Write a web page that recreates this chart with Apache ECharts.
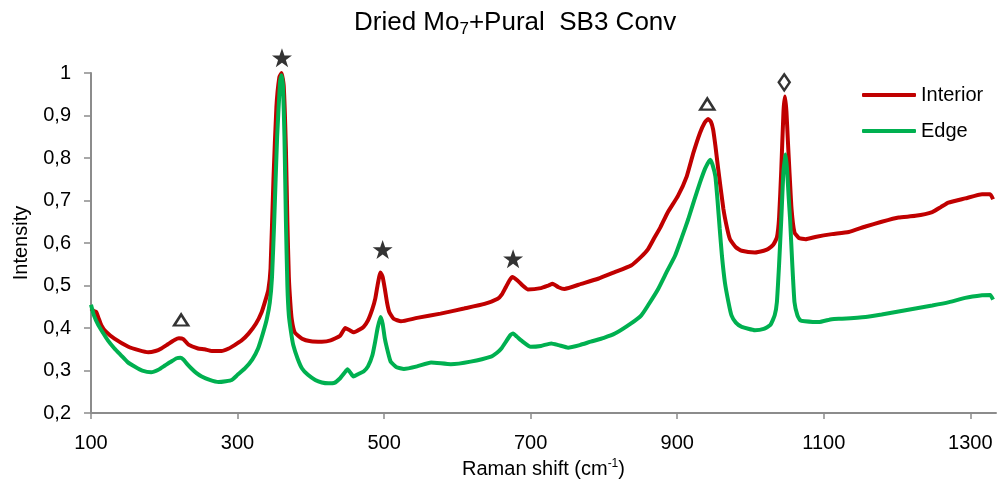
<!DOCTYPE html>
<html>
<head>
<meta charset="utf-8">
<script src="https://cdn.jsdelivr.net/npm/echarts@6/dist/echarts.min.js"></script>
<style>
html,body{margin:0;padding:0;background:#fff;}
#chart{width:1000px;height:484px;}
</style>
</head>
<body>
<div id="chart"></div>
<script>
// ---- Data ----
const interiorShift = [100,104,107,110,114,120,132,151,165,178,188,196,205,214,220,226,233,246,255,265,278,288,296,305,315,325,333,338,342,345,349,353,357,360,363,366,368,370,372,374,378,388,400,415,427,440,447,452,459,466,472,478,484,488,491,495,498,501,504,507,513,523,545,577,609,637,655,661,666,671,675,682,689,696,714,724,730,738,746,769,792,814,837,851,860,869,877,887,901,913,922,931,937,942,946,949,952,956,963,968,972,980,988,1006,1018,1024,1031,1036,1039,1042,1045,1047,1049,1051,1053,1056,1060,1066,1075,1090,1111,1134,1157,1179,1202,1225,1248,1260,1270,1293,1316,1327,1331];
const interiorIntensity = [0.446,0.44,0.438,0.425,0.407,0.392,0.375,0.356,0.348,0.343,0.346,0.352,0.362,0.372,0.376,0.374,0.361,0.352,0.35,0.346,0.346,0.352,0.36,0.37,0.387,0.41,0.438,0.465,0.49,0.54,0.75,0.92,0.99,1.0,0.97,0.82,0.65,0.52,0.46,0.42,0.39,0.375,0.369,0.368,0.371,0.382,0.4,0.396,0.39,0.396,0.403,0.418,0.445,0.47,0.5,0.531,0.52,0.492,0.46,0.438,0.422,0.416,0.424,0.434,0.446,0.457,0.469,0.48,0.496,0.512,0.52,0.512,0.5,0.491,0.494,0.5,0.504,0.496,0.492,0.504,0.516,0.531,0.547,0.568,0.585,0.613,0.637,0.672,0.711,0.757,0.812,0.859,0.882,0.892,0.885,0.867,0.83,0.773,0.68,0.635,0.609,0.59,0.582,0.578,0.582,0.586,0.596,0.613,0.66,0.773,0.91,0.945,0.91,0.84,0.773,0.68,0.625,0.612,0.609,0.615,0.621,0.626,0.639,0.65,0.66,0.664,0.673,0.685,0.695,0.705,0.715,0.715,0.703];

const edgeShift = [100,104,110,116,123,132,141,150,160,170,182,192,201,210,217,222,226,231,237,244,251,262,274,284,292,300,310,320,328,335,340,344,347,350,354,358,360,362,364,366,368,370,373,376,382,388,396,406,415,424,432,440,446,450,454,458,465,472,478,484,488,491,495,498,501,505,509,517,527,545,564,591,618,646,654,660,667,672,676,681,687,700,714,728,738,751,767,782,800,815,837,851,860,874,885,897,906,915,923,931,938,945,948,952,955,958,961,965,970,974,980,988,1006,1018,1027,1033,1036,1039,1042,1045,1048,1050,1052,1054,1057,1060,1064,1068,1074,1093,1111,1125,1157,1179,1202,1225,1248,1271,1293,1316,1327,1331];
const edgeIntensity = [0.455,0.43,0.407,0.39,0.371,0.352,0.336,0.32,0.309,0.3,0.296,0.302,0.312,0.322,0.329,0.33,0.326,0.316,0.305,0.294,0.286,0.278,0.273,0.275,0.278,0.29,0.305,0.326,0.352,0.39,0.422,0.46,0.52,0.65,0.85,0.98,0.995,0.97,0.85,0.65,0.5,0.43,0.39,0.36,0.328,0.305,0.29,0.278,0.272,0.27,0.271,0.282,0.295,0.303,0.295,0.286,0.292,0.298,0.31,0.336,0.37,0.399,0.426,0.41,0.375,0.345,0.321,0.308,0.304,0.31,0.319,0.315,0.321,0.333,0.342,0.352,0.37,0.383,0.387,0.38,0.371,0.356,0.358,0.364,0.36,0.354,0.36,0.368,0.377,0.387,0.411,0.43,0.453,0.492,0.53,0.57,0.612,0.656,0.7,0.742,0.775,0.796,0.785,0.757,0.7,0.633,0.57,0.508,0.46,0.43,0.413,0.403,0.395,0.398,0.407,0.43,0.461,0.55,0.656,0.77,0.808,0.77,0.71,0.656,0.55,0.461,0.43,0.418,0.416,0.414,0.421,0.422,0.426,0.432,0.439,0.446,0.453,0.461,0.471,0.477,0.478,0.467];

// peak markers: position (shift, intensity) and kind
const markerShift = [360.6, 498, 676, 223, 941, 1046];
const markerIntensity = [1.036, 0.585, 0.563, 0.419, 0.927, 0.978];
const markerKind = ['star','star','star','triangle','triangle','diamond'];

const xTicks = [100,300,500,700,900,1100,1300];
const yTicks = [0.2,0.3,0.4,0.5,0.6,0.7,0.8,0.9,1];

const seriesNames = ['Interior','Edge'];
const seriesColors = ['#C00000','#00B050'];

// ---- Chart ----
const zip = (a,b) => a.map((v,i)=>[v,b[i]]);
const FONT = "'Liberation Sans', Arial, sans-serif";
const starPath = 'path://M50,0 L61.8,34.5 L97.6,34.5 L68.6,55.9 L79.4,90.5 L50,69.1 L20.6,90.5 L31.4,55.9 L2.4,34.5 L38.2,34.5 Z';

const markerData = markerShift.map((x,i)=>{
  const k = markerKind[i];
  if (k === 'star') return {value:[x,markerIntensity[i]], symbol: starPath, symbolSize:[20,19], itemStyle:{color:'#000'}};
  if (k === 'triangle') return {value:[x,markerIntensity[i]], symbol:'triangle', symbolSize:[14,11], itemStyle:{color:'#fff', borderColor:'#000', borderWidth:2.5}};
  return {value:[x,markerIntensity[i]], symbol:'diamond', symbolSize:[11,16], itemStyle:{color:'#fff', borderColor:'#000', borderWidth:2.5}};
});

const chart = echarts.init(document.getElementById('chart'), null, {renderer:'canvas'});
chart.setOption({
  animation:false,
  backgroundColor:'#fff',
  title:{
    text:'{a|Dried Mo}{s|7}{a|+Pural  SB3 Conv}',
    left:354, top:8, padding:0,
    textStyle:{
      fontWeight:'normal',
      rich:{
        a:{fontFamily:FONT, fontSize:26, fontWeight:'normal', color:'#000', lineHeight:30},
        s:{fontFamily:FONT, fontSize:17, fontWeight:'normal', color:'#000', lineHeight:12, verticalAlign:'bottom'}
      }
    }
  },
  legend:{
    data:seriesNames,
    orient:'vertical',
    left:857, top:80,
    itemWidth:54, itemHeight:4,
    itemGap:16,
    icon:'roundRect',
    textStyle:{fontFamily:FONT, fontSize:20, color:'#000'}
  },
  grid:{left:91, right:4, top:73, bottom:69, containLabel:false},
  xAxis:{
    type:'value', min:100, max:1335,
    name:'Raman shift (cm{sup|-1})',
    nameLocation:'middle', nameGap:42,
    nameTextStyle:{fontFamily:FONT, fontSize:20, color:'#000',
      rich:{sup:{fontFamily:FONT, fontSize:12, color:'#000', verticalAlign:'top', padding:[0,0,10,0]}}},
    axisLine:{show:true, onZero:false, lineStyle:{color:'#8C8C8C', width:2}},
    axisTick:{show:true, length:6, customValues:xTicks, lineStyle:{color:'#8C8C8C', width:1.5}},
    axisLabel:{customValues:xTicks, margin:20, fontFamily:FONT, fontSize:20, color:'#000',
      formatter:(v)=>String(v)},
    splitLine:{show:false}
  },
  yAxis:{
    type:'value', min:0.2, max:1,
    name:'Intensity',
    nameLocation:'middle', nameGap:60, nameRotate:90,
    nameTextStyle:{fontFamily:FONT, fontSize:20, color:'#000'},
    axisLine:{show:true, lineStyle:{color:'#8C8C8C', width:2}},
    axisTick:{show:true, length:7, customValues:yTicks, lineStyle:{color:'#8C8C8C', width:1.5}},
    axisLabel:{customValues:yTicks, margin:20, fontFamily:FONT, fontSize:20, color:'#000',
      formatter:(v)=>String(Math.round(v*10)/10).replace('.', ',')},
    splitLine:{show:false}
  },
  series:[
    {name:seriesNames[0], type:'line', data:zip(interiorShift, interiorIntensity), showSymbol:false, smooth:0.15,
     lineStyle:{color:seriesColors[0], width:4}, itemStyle:{color:seriesColors[0]}, z:2},
    {name:seriesNames[1], type:'line', data:zip(edgeShift, edgeIntensity), showSymbol:false, smooth:0.15,
     lineStyle:{color:seriesColors[1], width:4}, itemStyle:{color:seriesColors[1]}, z:3},
    {name:'markers', type:'scatter', data:markerData, clip:false, silent:true, z:5}
  ]
});
</script>
</body>
</html>
